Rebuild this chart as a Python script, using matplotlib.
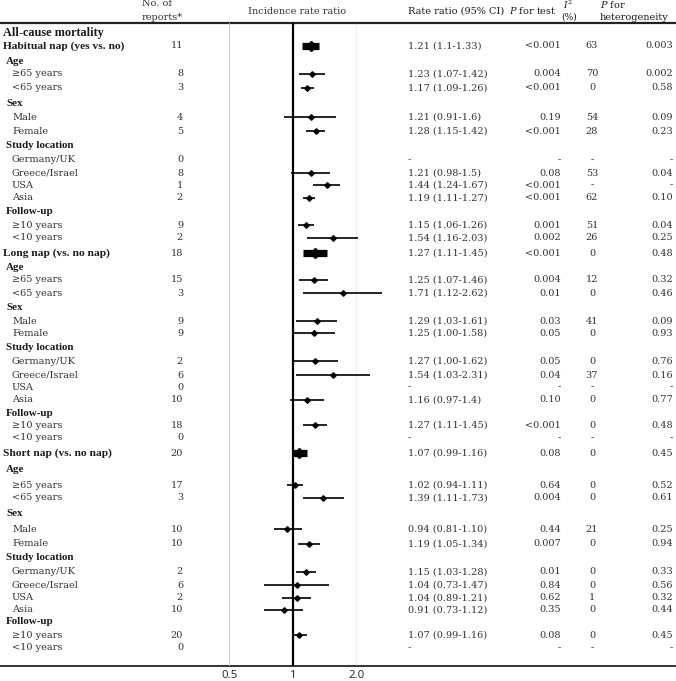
import re
import matplotlib
matplotlib.use("Agg")
import matplotlib.pyplot as plt

plt.rcParams.update({
    'font.family': 'DejaVu Serif',
    'mathtext.fontset': 'dejavuserif',
    'text.color': '#1a1a1a',
})

# =============================================================================
# DATA
# =============================================================================
comparisons = ['Habitual nap (yes vs. no)', 'Long nap (vs. no nap)', 'Short nap (vs. no nap)']
subgroups = [('Age', ['≥65 years', '<65 years']),
             ('Sex', ['Male', 'Female']),
             ('Study location', ['Germany/UK', 'Greece/Israel', 'USA', 'Asia']),
             ('Follow-up', ['≥10 years', '<10 years'])]

# order per comparison: overall, >=65, <65, male, female, Ger/UK, Gre/Isr, USA, Asia, >=10, <10
habitual_n = [11, 8, 3, 4, 5, 0, 8, 1, 2, 9, 2]
habitual_ci = ['1.21 (1.1-1.33)', '1.23 (1.07-1.42)', '1.17 (1.09-1.26)', '1.21 (0.91-1.6)',
               '1.28 (1.15-1.42)', '-', '1.21 (0.98-1.5)', '1.44 (1.24-1.67)',
               '1.19 (1.11-1.27)', '1.15 (1.06-1.26)', '1.54 (1.16-2.03)']
habitual_p = ['<0.001', '0.004', '<0.001', '0.19', '<0.001', '-', '0.08', '<0.001', '<0.001', '0.001', '0.002']
habitual_i2 = ['63', '70', '0', '54', '28', '-', '53', '-', '62', '51', '26']
habitual_phet = ['0.003', '0.002', '0.58', '0.09', '0.23', '-', '0.04', '-', '0.10', '0.04', '0.25']

long_n = [18, 15, 3, 9, 9, 2, 6, 0, 10, 18, 0]
long_ci = ['1.27 (1.11-1.45)', '1.25 (1.07-1.46)', '1.71 (1.12-2.62)', '1.29 (1.03-1.61)',
           '1.25 (1.00-1.58)', '1.27 (1.00-1.62)', '1.54 (1.03-2.31)', '-',
           '1.16 (0.97-1.4)', '1.27 (1.11-1.45)', '-']
long_p = ['<0.001', '0.004', '0.01', '0.03', '0.05', '0.05', '0.04', '-', '0.10', '<0.001', '-']
long_i2 = ['0', '12', '0', '41', '0', '0', '37', '-', '0', '0', '-']
long_phet = ['0.48', '0.32', '0.46', '0.09', '0.93', '0.76', '0.16', '-', '0.77', '0.48', '-']

short_n = [20, 17, 3, 10, 10, 2, 6, 2, 10, 20, 0]
short_ci = ['1.07 (0.99-1.16)', '1.02 (0.94-1.11)', '1.39 (1.11-1.73)', '0.94 (0.81-1.10)',
            '1.19 (1.05-1.34)', '1.15 (1.03-1.28)', '1.04 (0.73-1.47)', '1.04 (0.89-1.21)',
            '0.91 (0.73-1.12)', '1.07 (0.99-1.16)', '-']
short_p = ['0.08', '0.64', '0.004', '0.44', '0.007', '0.01', '0.84', '0.62', '0.35', '0.08', '-']
short_i2 = ['0', '0', '0', '21', '0', '0', '0', '1', '0', '0', '-']
short_phet = ['0.45', '0.52', '0.61', '0.25', '0.94', '0.33', '0.56', '0.32', '0.44', '0.45', '-']

all_n = [habitual_n, long_n, short_n]
all_ci = [habitual_ci, long_ci, short_ci]
all_p = [habitual_p, long_p, short_p]
all_i2 = [habitual_i2, long_i2, short_i2]
all_phet = [habitual_phet, long_phet, short_phet]

# row centres (pixels from top) for each block: overall, Age, >=65, <65, Sex, ...
block_y = [
    [46, 62, 74, 88, 103, 117, 131, 146, 160, 173, 185, 198, 212, 225, 238],
    [253, 268, 280, 293, 307, 321, 333, 347, 361, 375, 387, 400, 413, 425, 438],
    [453, 469, 485, 498, 514, 529, 544, 558, 572, 585, 598, 610, 622, 635, 648],
]

W, H = 676, 681
TOP, BOTTOM = 23, 666
X_LEFT, X_RIGHT = 229, 357   # pixel positions of 0.5 and 2.0

fig = plt.figure(figsize=(W / 100, H / 100), dpi=100)
tab = fig.add_axes([0, 0, 1, 1])
tab.set_xlim(0, W)
tab.set_ylim(H, 0)
tab.axis('off')

ax = fig.add_axes([X_LEFT / W, (H - BOTTOM) / H, (X_RIGHT - X_LEFT) / W, (BOTTOM - TOP) / H])
ax.set_xscale('log')
ax.set_xlim(0.5, 2.0)
ax.set_ylim(BOTTOM, TOP)
ax.patch.set_alpha(0)
for s in ax.spines.values():
    s.set_visible(False)
ax.set_yticks([])
ax.set_xticks([0.5, 1, 2.0])
ax.set_xticklabels(['0.5', '1', '2.0'], fontfamily='Open Sans', fontsize=8.2, color='#222222')
ax.xaxis.set_minor_locator(matplotlib.ticker.NullLocator())
ax.tick_params(axis='x', length=0, pad=2.6)

ax.axvline(0.5, color='#c4c4c4', lw=1.3)
ax.axvline(2.0, color='#b0b0b0', lw=1.0)
ax.axvline(1, color='black', lw=1.6)

tab.axhline(TOP, color='#222222', lw=1.6)
tab.axhline(BOTTOM, color='#333333', lw=1.4)

FS = 7.0
BOLD = dict(family='Liberation Serif', fontweight='bold', va='center')

# header
tab.text(142, 4, 'No. of', fontsize=FS, va='center', color='#333333')
tab.text(142, 17, 'reports*', fontsize=FS, va='center', color='#333333')
tab.text(297, 11, 'Incidence rate ratio', fontsize=FS, va='center', ha='center', color='#333333')
tab.text(408, 11, 'Rate ratio (95% CI)', fontsize=FS, va='center')
tab.text(509, 11, r'$P$ for test', fontsize=FS, va='center')
tab.text(563, 5, r'$I^2$', fontsize=FS - 0.5, va='center')
tab.text(561, 17, '(%)', fontsize=FS - 0.5, va='center')
tab.text(600, 4, r'$P$ for', fontsize=FS, va='center')
tab.text(600, 17, 'heterogeneity', fontsize=FS, va='center')

tab.text(3, 33, 'All-cause mortality', fontsize=8.8, **BOLD)


def parse_ci(s):
    m = re.match(r'([\d.]+) \(([\d.]+)-([\d.]+)\)', s)
    if m is None:
        return None
    return [float(v) for v in m.groups()]


for b, name in enumerate(comparisons):
    ys = block_y[b]
    # left labels
    tab.text(3, ys[0], name, fontsize=8.2, **BOLD)
    item_rows = []
    r = 1
    for head, items in subgroups:
        tab.text(6, ys[r], head, fontsize=7.9, **BOLD)
        r += 1
        for it in items:
            tab.text(12, ys[r], it, fontsize=FS, va='center', color='#333333')
            item_rows.append(ys[r])
            r += 1
    rows_y = [ys[0]] + item_rows

    for i, y in enumerate(rows_y):
        tab.text(183, y, str(all_n[b][i]), fontsize=FS, ha='right', va='center', color='#333333')
        tab.text(408, y, all_ci[b][i], fontsize=FS, va='center', color='#333333')
        tab.text(561, y, all_p[b][i], fontsize=FS, ha='right', va='center', color='#333333')
        tab.text(592, y, all_i2[b][i], fontsize=FS, ha='center', va='center', color='#333333')
        tab.text(673, y, all_phet[b][i], fontsize=FS, ha='right', va='center', color='#333333')

        vals = parse_ci(all_ci[b][i])
        if vals is None:
            continue
        est, lo, hi = vals
        if i == 0:
            ax.plot([lo, hi], [y, y], color='black', lw=5.2, solid_capstyle='butt', clip_on=False)
            ax.plot(est, y, marker='D', ms=5.5, color='black', clip_on=False)
        else:
            ax.plot([lo, hi], [y, y], color='black', lw=1.2, solid_capstyle='butt', clip_on=False)
            ax.plot(est, y, marker='D', ms=2.8, color='black', clip_on=False)

plt.savefig('out.png', dpi=100, facecolor='white')
plt.close()
